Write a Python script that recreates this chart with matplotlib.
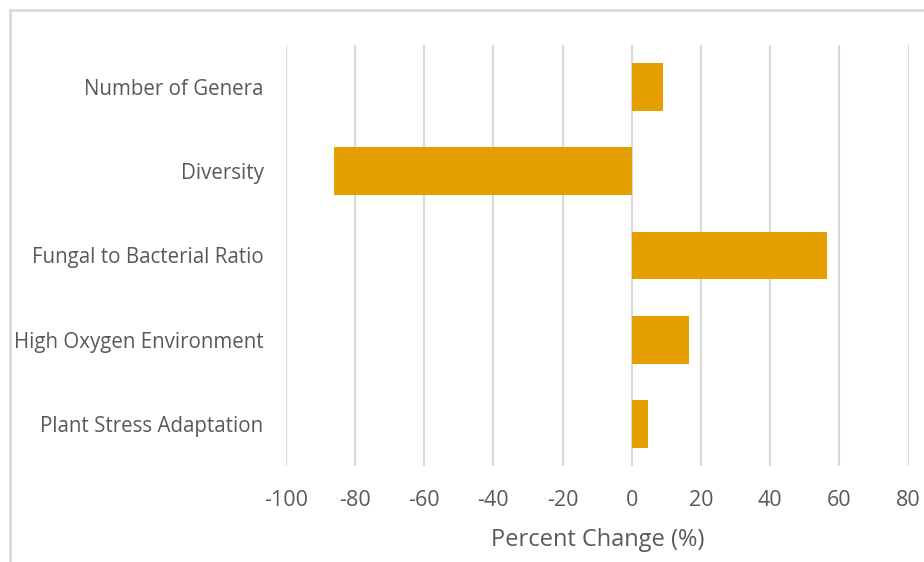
import matplotlib
matplotlib.use("Agg")
import matplotlib.pyplot as plt
from matplotlib.patches import Rectangle

categories = [
    "Number of Genera",
    "Diversity",
    "Fungal to Bacterial Ratio",
    "High Oxygen Environment",
    "Plant Stress Adaptation",
]
percent_change = [9, -86, 56.5, 16.5, 4.7]
x_ticks = [-100, -80, -60, -40, -20, 0, 20, 40, 60, 80]

W, H = 924, 562
fig = plt.figure(figsize=(W / 100, H / 100), dpi=100)
fig.patch.set_facecolor("white")

# outer chart frame
fig.patches.append(Rectangle((10 / W, -0.1), 1.2, 1 - 10 / H + 0.1,
                             transform=fig.transFigure, fill=False,
                             edgecolor="#d9d9d9", linewidth=2))

left, right = 285.7 / W, 908.7 / W
top, bottom = 1 - 45 / H, 1 - 466 / H
ax = fig.add_axes([left, bottom, right - left, top - bottom])

text_color = "#595959"
font = "Open Sans"

y = list(range(len(categories)))
ax.barh(y, percent_change, height=0.57, color="#E5A000", zorder=3)
ax.set_ylim(len(categories) - 0.5, -0.5)
ax.set_xlim(-100, 80)
ax.set_xticks(x_ticks)
ax.set_xticklabels([str(t) for t in x_ticks], fontsize=15.5,
                   color=text_color, family=font)
ax.set_yticks(y)
ax.set_yticklabels(categories, fontsize=14.8, color=text_color, family=font)
ax.tick_params(axis="both", length=0)
ax.tick_params(axis="x", pad=17.5)
ax.tick_params(axis="y", pad=16)
ax.grid(axis="x", color="#d9d9d9", linewidth=1.5, zorder=0)
ax.grid(axis="y", visible=False)
for s in ax.spines.values():
    s.set_visible(False)
ax.set_xlabel("Percent Change (%)", fontsize=17, color=text_color,
              family=font, labelpad=12)

fig.savefig("out.png", dpi=100)
